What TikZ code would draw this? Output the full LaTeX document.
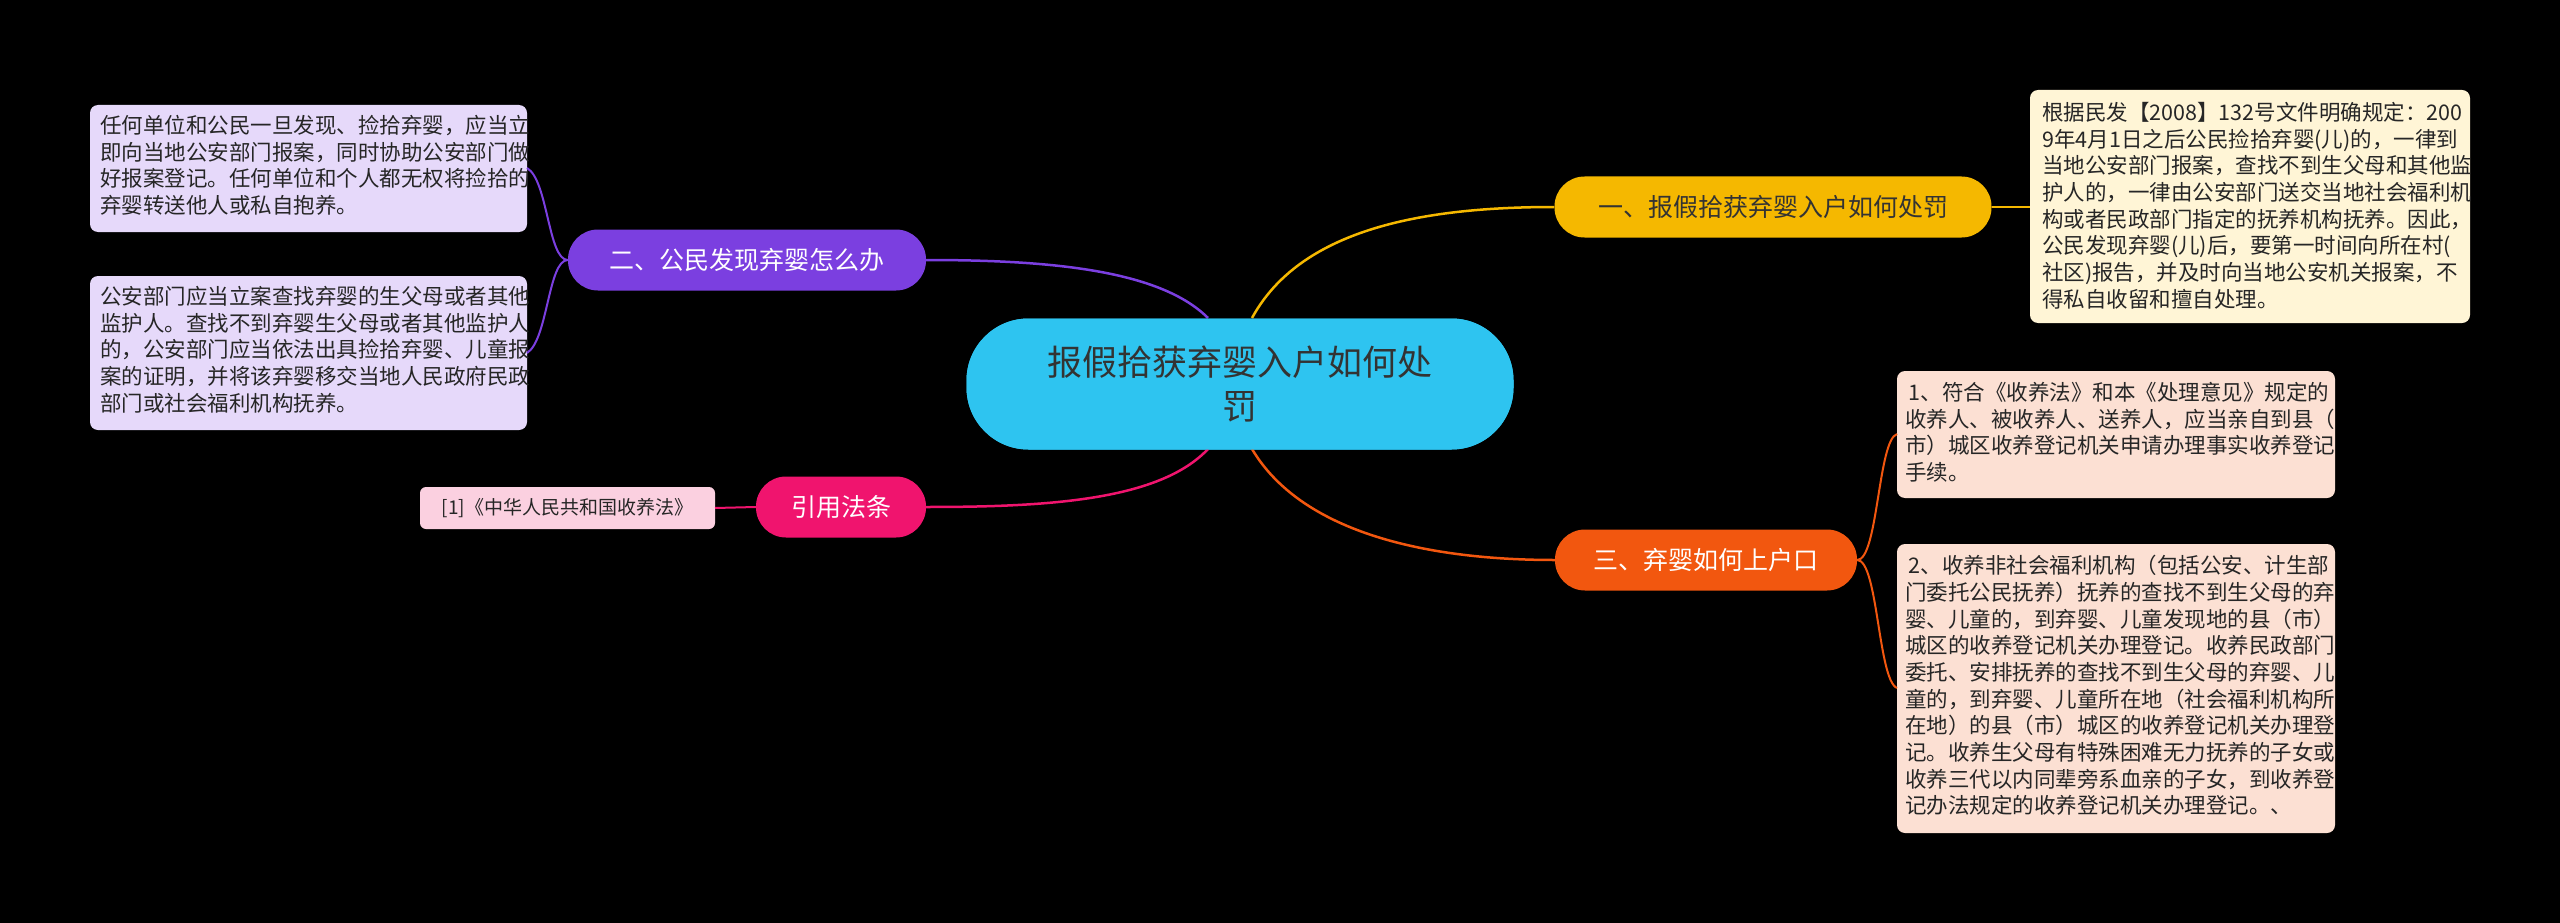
\documentclass[tikz,border=0pt]{standalone}
\usepackage{fontspec}
\setmainfont{Noto Sans CJK SC}
\begin{document}
\begin{tikzpicture}[x=1pt,y=-1pt,
  central/.style={fill=cyanc,rounded corners=62pt,minimum width=547pt,minimum height=131pt,font=\fontsize{35}{44}\selectfont,text=black!80,align=center},
  branch/.style={rounded corners=30pt,minimum height=61pt,font=\fontsize{25}{30}\selectfont,inner xsep=18pt},
  detail/.style={rounded corners=8pt,font=\fontsize{21.5}{26.7}\selectfont,align=left,text=black!85,inner sep=0pt,anchor=north west},
  conn/.style={line width=2.5pt}]
\definecolor{cyanc}{HTML}{2EC4F0}
\definecolor{yel}{HTML}{F5B800}
\definecolor{cream}{HTML}{FFF5D6}
\definecolor{purp}{HTML}{7B3FE0}
\definecolor{lav}{HTML}{E6D9FA}
\definecolor{oran}{HTML}{F2570F}
\definecolor{peach}{HTML}{FCE0D3}
\definecolor{pinkc}{HTML}{F0146E}
\definecolor{lpink}{HTML}{FBD0E0}
\fill[black] (0,0) rectangle (2560,923);
\useasboundingbox (0,0) rectangle (2560,923);

% connectors
\coordinate (c1) at (1252,318);
\coordinate (c2) at (1208,318);
\coordinate (c3) at (1252,449);
\coordinate (c4) at (1208,449);
\node[central] (C) at (1240,384) {报假拾获弃婴入户如何处\\罚};

\node[branch,fill=yel,text=black!80,minimum width=437pt] (B1) at (1773,207) {一、报假拾获弃婴入户如何处罚};
\node[branch,fill=purp,text=white,minimum width=358pt] (B2) at (747,260) {二、公民发现弃婴怎么办};
\node[branch,fill=oran,text=white,minimum width=302pt] (B3) at (1706,560) {三、弃婴如何上户口};
\node[branch,fill=pinkc,text=white,minimum width=170pt] (B4) at (841,507) {引用法条};

\draw[conn,yel] (c1) .. controls (1300,230) and (1420,207) .. (B1.west);
\draw[conn,purp] (c2) .. controls (1160,270) and (1050,260) .. (B2.east);
\draw[conn,oran] (c3) .. controls (1300,530) and (1420,560) .. (B3.west);
\draw[conn,pinkc] (c4) .. controls (1160,500) and (1050,507) .. (B4.east);
\node[central] at (1240,384) {报假拾获弃婴入户如何处\\罚};

% details
\fill[cream,rounded corners=8pt] (2030,90) rectangle (2470,323);
\node[detail] (D1) at (2042,102) {根据民发【2008】132号文件明确规定：200\\9年4月1日之后公民捡拾弃婴(儿)的，一律到\\当地公安部门报案，查找不到生父母和其他监\\护人的，一律由公安部门送交当地社会福利机\\构或者民政部门指定的抚养机构抚养。因此，\\公民发现弃婴(儿)后，要第一时间向所在村(\\社区)报告，并及时向当地公安机关报案，不\\得私自收留和擅自处理。};
\coordinate (D1w) at (2030,207);
\draw[conn,yel] (B1.east) -- (D1w);

\fill[lav,rounded corners=8pt] (90,105) rectangle (527,232);
\node[detail] (D2a) at (100,115) {任何单位和公民一旦发现、捡拾弃婴，应当立\\即向当地公安部门报案，同时协助公安部门做\\好报案登记。任何单位和个人都无权将捡拾的\\弃婴转送他人或私自抱养。};
\fill[lav,rounded corners=8pt] (90,276) rectangle (527,430);
\node[detail] (D2b) at (100,286) {公安部门应当立案查找弃婴的生父母或者其他\\监护人。查找不到弃婴生父母或者其他监护人\\的，公安部门应当依法出具捡拾弃婴、儿童报\\案的证明，并将该弃婴移交当地人民政府民政\\部门或社会福利机构抚养。};
\coordinate (D2aE) at (527,168);
\coordinate (D2bE) at (527,353);
\draw[conn,purp,line width=2pt] (B2.west) .. controls (548,260) and (548,180) .. (D2aE);
\draw[conn,purp,line width=2pt] (B2.west) .. controls (548,260) and (548,340) .. (D2bE);

\fill[peach,rounded corners=8pt] (1897,371) rectangle (2335,498);
\node[detail] (D3a) at (1905,382) {\,1、符合《收养法》和本《处理意见》规定的\\收养人、被收养人、送养人，应当亲自到县（\\市）城区收养登记机关申请办理事实收养登记\\手续。};
\fill[peach,rounded corners=8pt] (1897,544) rectangle (2335,833);
\node[detail] (D3b) at (1905,555) {\,2、收养非社会福利机构（包括公安、计生部\\门委托公民抚养）抚养的查找不到生父母的弃\\婴、儿童的，到弃婴、儿童发现地的县（市）\\城区的收养登记机关办理登记。收养民政部门\\委托、安排抚养的查找不到生父母的弃婴、儿\\童的，到弃婴、儿童所在地（社会福利机构所\\在地）的县（市）城区的收养登记机关办理登\\记。收养生父母有特殊困难无力抚养的子女或\\收养三代以内同辈旁系血亲的子女，到收养登\\记办法规定的收养登记机关办理登记。、};
\coordinate (D3aW) at (1897,434);
\coordinate (D3bW) at (1897,688);
\draw[conn,oran,line width=2pt] (B3.east) .. controls (1878,560) and (1878,440) .. (D3aW);
\draw[conn,oran,line width=2pt] (B3.east) .. controls (1878,560) and (1878,680) .. (D3bW);

\fill[lpink,rounded corners=6pt] (420,487) rectangle (715,529);
\node[font=\fontsize{19}{22}\selectfont,text=black!85] (D4) at (567.5,508) {[1]《中华人民共和国收养法》};
\coordinate (D4e) at (715,508);
\draw[conn,pinkc,line width=2pt] (B4.west) -- (D4e);
\end{tikzpicture}
\end{document}
